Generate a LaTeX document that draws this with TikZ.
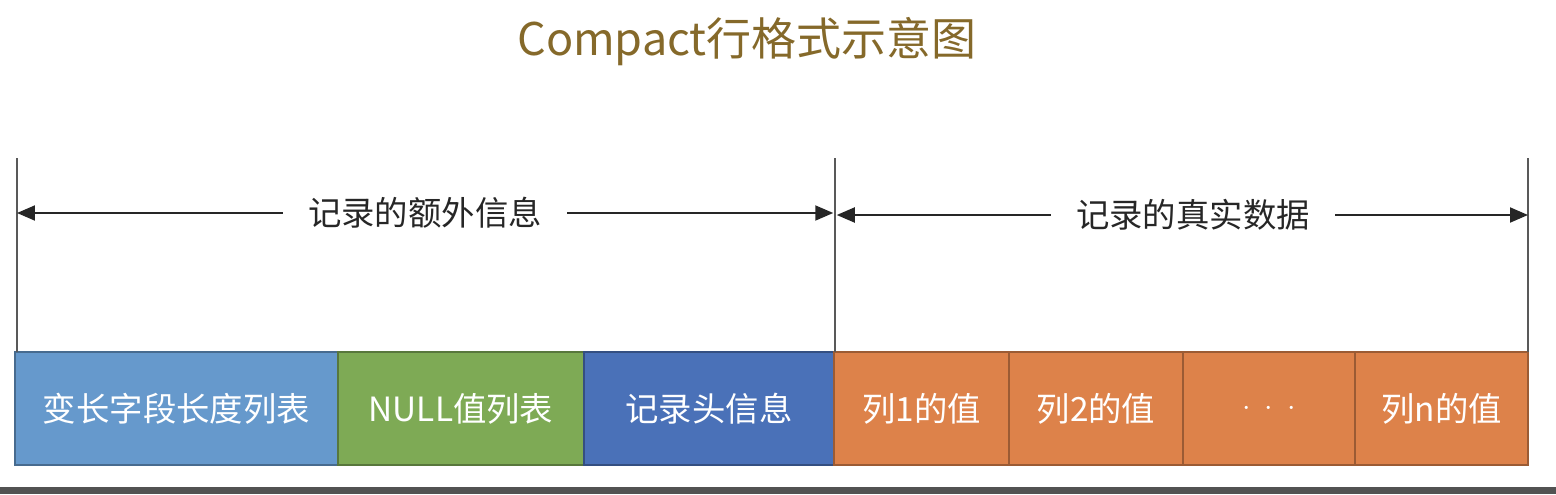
\documentclass[tikz,border=0pt]{standalone}
\usepackage{fontspec}
\setmainfont{Noto Sans CJK SC}
\usepackage{tikz}
\usetikzlibrary{arrows.meta}
\definecolor{ttl}{HTML}{85692A}
\definecolor{lenc}{HTML}{6699CC}
\definecolor{nulc}{HTML}{7EAA55}
\definecolor{hdrc}{HTML}{4A71B8}
\definecolor{valc}{HTML}{DD824A}
\definecolor{barc}{HTML}{525252}

\begin{document}
\begin{tikzpicture}[x=0.02cm,y=-0.02cm,
  cell/.style={draw=#1!70!black,fill=#1,line width=0.9pt,minimum height=2.26cm,inner sep=0pt,outer sep=0pt,
    text=white,font=\fontsize{19pt}{22pt}\selectfont},
  lbl/.style={inner sep=0.5cm,text=black!85,font=\fontsize{19pt}{22pt}\selectfont},
  guide/.style={draw=black!65,line width=1.1pt},
  span/.style={draw=black!85,line width=1.1pt,-{Triangle[length=0.36cm,width=0.3cm]}}]
\useasboundingbox (0,0) rectangle (1556,494);
\fill[barc] (0,487) rectangle (1556,494);
\node[text=ttl,font=\fontsize{25.6pt}{30pt}\selectfont] (title) at (747,42) {Compact行格式示意图};
% record layout
\node[cell=lenc,minimum width=6.46cm] (f1) at (176.5,408.5) {变长字段长度列表};
\node[cell=nulc,minimum width=4.92cm] (f2) at (461,408.5) {NULL值列表};
\node[cell=hdrc,minimum width=5.0cm] (f3) at (709,408.5) {记录头信息};
\node[cell=valc,minimum width=3.5cm] (v1) at (921.5,408.5) {列1的值};
\node[cell=valc,minimum width=3.48cm] (v2) at (1096,408.5) {列2的值};
\node[cell=valc,minimum width=3.44cm] (v3) at (1269,408.5) {$\cdot\ \cdot\ \cdot$};
\node[cell=valc,minimum width=3.46cm] (v4) at (1441.5,408.5) {列n的值};
% guide lines
\foreach \n/\x in {l0/17,l1/835,l2/1528} {
  \coordinate (\n) at (\x,158);
  \draw[guide] (\n) -- (\n |- f1.north);
}
\node[lbl] (extra) at (425,213) {记录的额外信息};
\node[lbl] (data) at (1193,215) {记录的真实数据};
\draw[span] (extra.west) -- (extra.west -| l0);
\draw[span] (extra.east) -- ([xshift=-1]extra.east -| l1);
\draw[span] (data.west) -- ([xshift=1]data.west -| l1);
\draw[span] (data.east) -- (data.east -| l2);
\end{tikzpicture}
\end{document}
